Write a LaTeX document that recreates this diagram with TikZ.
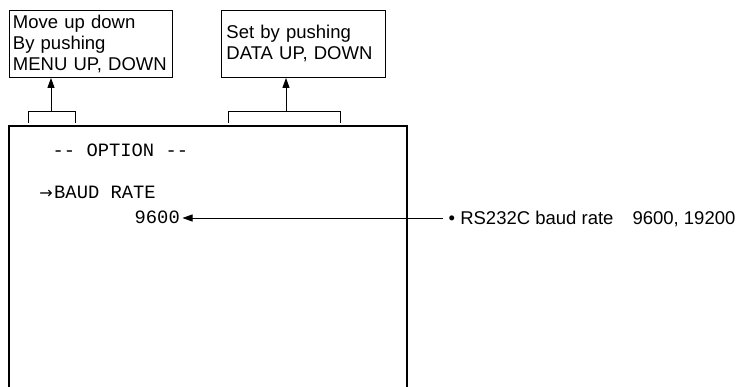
\documentclass[tikz,border=0pt]{standalone}
\usepackage{fontspec}
\setmainfont{Liberation Sans}
\newfontfamily\monof{Liberation Mono}
\newfontfamily\arrowf{DejaVu Sans}
\usetikzlibrary{arrows.meta}
\begin{document}
\begin{tikzpicture}[x=1pt,y=-1pt,
  sansbox/.style={draw, line width=0.9pt, font=\fontsize{18.5}{21}\selectfont, align=left,
    anchor=north west, minimum height=67pt, inner ysep=0pt},
  mono/.style={font=\monof\fontsize{18.8}{21}\selectfont, inner sep=0pt, text height=11pt, text depth=0pt},
  pointer/.style={line width=0.9pt, -{Triangle[width=7pt,length=10pt]}},
  bracket/.style={line width=0.9pt},
  screen/.style={line width=2pt, line join=miter},
  note/.style={font=\fontsize{18.5}{21}\selectfont, inner ysep=0pt, inner xsep=0pt, text height=13pt, text depth=0pt}
]
\useasboundingbox (0,0) rectangle (740,387);

% upper boxes
\node[sansbox, text width=156pt, inner xsep=3.5pt] (box1) at (9,10) {Move up down\\By pushing\\MENU UP, DOWN};
\node[sansbox, text width=154pt, inner xsep=5pt] (box2) at (221,10) {Set by pushing\\DATA UP, DOWN};

% brackets
\coordinate (b1) at (51,111);
\coordinate (b2) at (286,111);
\draw[bracket] (28,123) -- (28,111) -- (75,111) -- (75,123);
\draw[bracket] (228,123) -- (228,111) -- (340,111) -- (340,123);
\draw[pointer] (b1) -- (b1 |- box1.south);
\draw[pointer] (b2) -- (b2 |- box2.south);

% screen
\draw[screen] (9,390) -- (9,126) -- (407,126) -- (407,390);

\node[mono, anchor=west] (title) at (52.5,151) {-- OPTION --};
\node[mono, anchor=west] (baud) at (54,193) {BAUD RATE};
\node[font=\arrowf\fontsize{16}{16}\selectfont, inner sep=0pt, anchor=east, text height=11pt, text depth=0pt] (cursor) at (53,193.5) {→};
\node[mono, anchor=east, inner xsep=2.5pt] (val) at (182.5,218) {9600};

% explanation
\node[note, anchor=west, inner xsep=5.5pt] (rs) at (443,218) {• RS232C baud rate\hspace{19pt}9600, 19200};
\draw[pointer] (rs.west) -- (val.east);
\end{tikzpicture}
\end{document}
